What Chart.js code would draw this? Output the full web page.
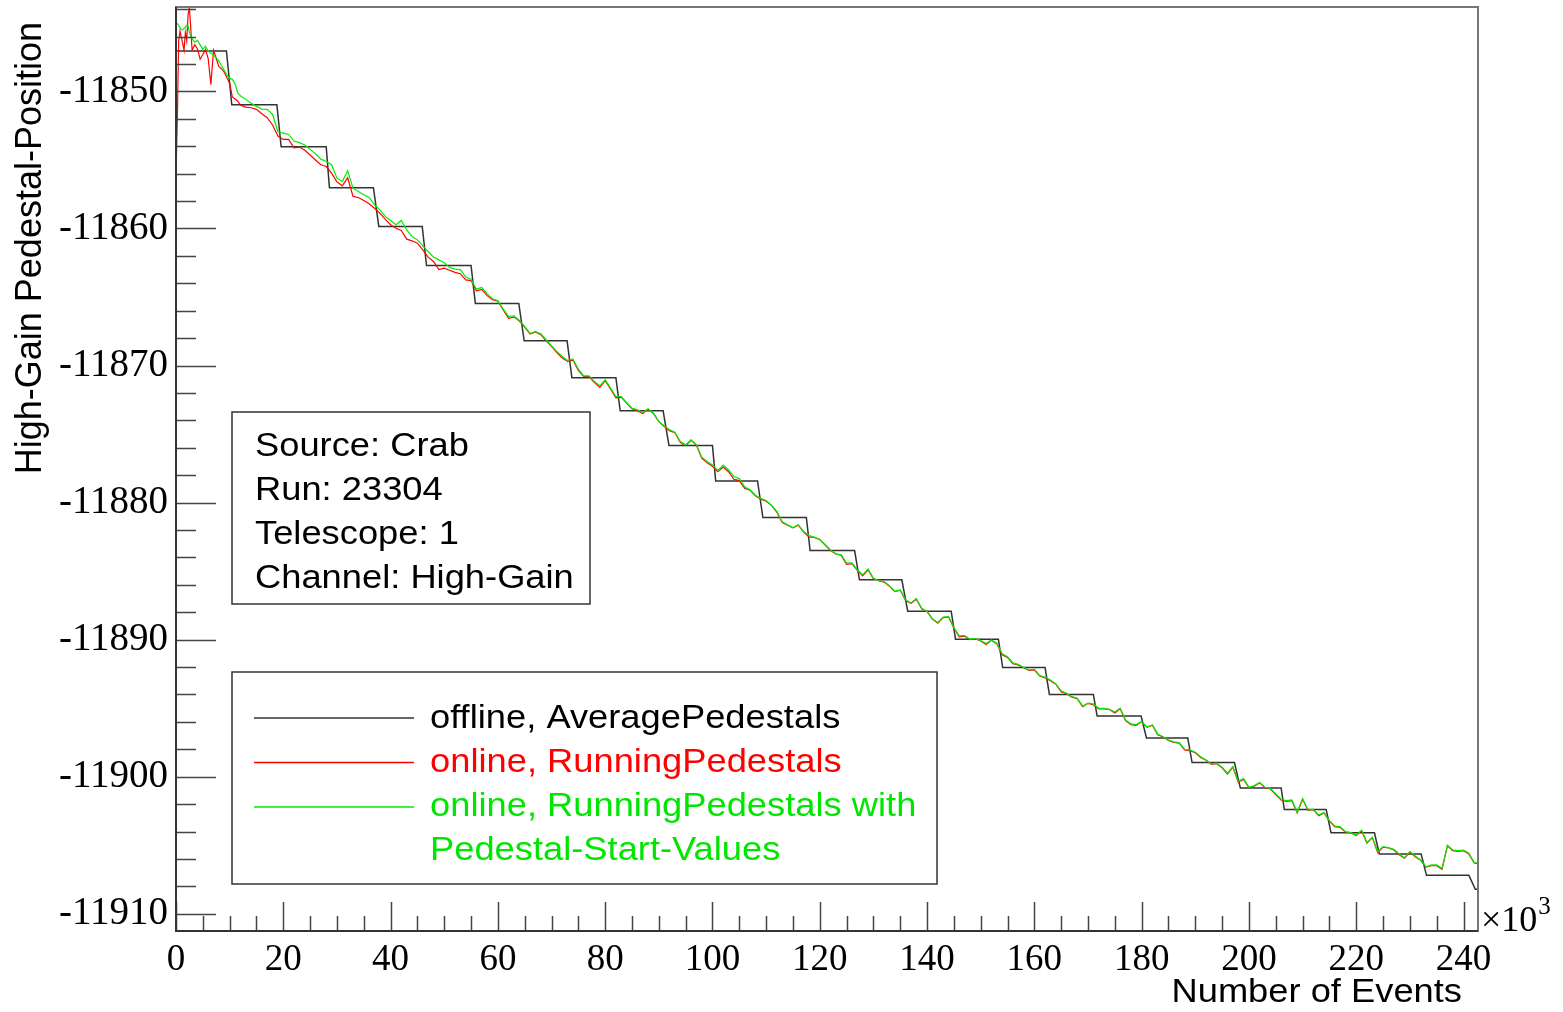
<!DOCTYPE html>
<html>
<head>
<meta charset="utf-8">
<title>High-Gain Pedestal-Position</title>
<script src="https://cdn.jsdelivr.net/npm/chart.js@4.4.1/dist/chart.umd.min.js"></script>
<style>
    body { margin: 0; background: #fff; }
    canvas { display: block; }
</style>
</head>
<body>
<canvas id="grafico" width="1563" height="1012"></canvas>
<script>
// eixos: eventos em 10^3
const xTicks = [0, 20, 40, 60, 80, 100, 120, 140, 160, 180, 200, 220, 240]
const yTicks = [-11910, -11900, -11890, -11880, -11870, -11860, -11850]

// offline, AveragePedestals: degraus (inicio, fim, nivel)
const stepStart = [0, 10.4, 19.6, 28.6, 37.8, 46.7, 55.8, 64.9, 73.8, 82.8, 91.9, 100.6, 109.4, 118.2,
    127.4, 136.4, 145.3, 154.1, 162.8, 171.7, 180.9, 189.4, 198.4, 206.6, 215.3, 224.3, 233.1]
const stepEnd = [9.4, 18.8, 28.0, 36.8, 45.9, 55.0, 63.9, 72.9, 82.0, 90.8, 100.0, 108.4, 117.5, 126.5,
    135.3, 144.5, 153.3, 162.0, 171.0, 179.9, 188.6, 197.3, 206.0, 214.4, 223.4, 232.1, 241.0]
const stepLevel = [-11847.05, -11850.97, -11854.04, -11857.03, -11859.85, -11862.7, -11865.47, -11868.2,
    -11870.9, -11873.3, -11875.84, -11878.42, -11881.09, -11883.5, -11885.64, -11887.93, -11889.97,
    -11892.04, -11894.0, -11895.57, -11897.18, -11898.97, -11900.82, -11902.4, -11904.1, -11905.64, -11907.2]
const tailEvents = [242.2, 242.7]
const tailPeds = [-11908.22, -11908.22]

// eventos dos pedestais online
const eventsK = [0, 0.25, 0.5, 0.75, 1, 1.25, 1.5, 1.75, 2, 2.25, 2.5, 2.75, 3, 3.5, 4, 4.5, 5, 5.5, 6, 6.5,
    7, 7.5, 8, 8.5, 9, 9.5, 10, 10.5, 11, 11.5, 12,
    13, 14, 15, 16, 17, 18, 19, 20, 21, 22,
    23, 24, 25, 26, 27, 28, 29, 30, 31, 32,
    33, 34, 35, 36, 37, 38, 39, 40, 41, 42,
    43, 44, 45, 46, 47, 48, 49, 50, 51, 52,
    53, 54, 55, 56, 57, 58, 59, 60, 61, 62,
    63, 64, 65, 66, 67, 68, 69, 70, 71, 72,
    73, 74, 75, 76, 77, 78, 79, 80, 81, 82,
    83, 84, 85, 86, 87, 88, 89, 90, 91, 92,
    93, 94, 95, 96, 97, 98, 99, 100, 101, 102,
    103, 104, 105, 106, 107, 108, 109, 110, 111, 112,
    113, 114, 115, 116, 117, 118, 119, 120, 121, 122,
    123, 124, 125, 126, 127, 128, 129, 130, 131, 132,
    133, 134, 135, 136, 137, 138, 139, 140, 141, 142,
    143, 144, 145, 146, 147, 148, 149, 150, 151, 152,
    153, 154, 155, 156, 157, 158, 159, 160, 161, 162,
    163, 164, 165, 166, 167, 168, 169, 170, 171, 172,
    173, 174, 175, 176, 177, 178, 179, 180, 181, 182,
    183, 184, 185, 186, 187, 188, 189, 190, 191, 192,
    193, 194, 195, 196, 197, 198, 199, 200, 201, 202,
    203, 204, 205, 206, 207, 208, 209, 210, 211, 212,
    213, 214, 215, 216, 217, 218, 219, 220, 221, 222,
    223, 224, 225, 226, 227, 228, 229, 230, 231, 232,
    233, 234, 235, 236, 237, 238, 239, 240, 241, 242,
    242.7]

// online, RunningPedestals
const runningPeds = [-11855.93, -11852.0, -11846.3, -11845.6, -11846.1, -11846.5, -11847.0, -11845.7, -11846.3, -11844.4,
    -11843.9, -11845.4, -11847.0, -11846.6, -11846.9, -11847.65, -11847.3, -11846.95, -11847.6, -11849.5,
    -11847.0, -11847.6, -11848.2, -11848.35, -11848.6, -11849.0, -11849.4, -11850.4, -11850.55, -11850.7, -11851.0,
    -11851.14, -11851.19, -11851.31, -11851.63, -11851.92, -11852.45, -11853.26, -11853.5, -11853.5, -11854.11,
    -11854.06, -11854.3, -11854.64, -11855.0, -11855.35, -11855.48, -11855.96, -11856.6, -11856.89, -11856.3,
    -11857.66, -11857.74, -11857.96, -11858.2, -11858.52, -11858.88, -11859.32, -11859.73, -11859.98, -11860.15,
    -11860.78, -11860.9, -11861.07, -11861.56, -11862.09, -11862.41, -11863.0, -11862.9, -11863.05, -11863.2,
    -11863.3, -11863.75, -11863.8, -11864.55, -11864.45, -11864.9, -11865.2, -11865.3, -11865.95, -11866.55,
    -11866.45, -11866.75, -11867.2, -11867.7, -11867.55, -11867.75, -11868.2, -11868.6, -11869.05, -11869.45,
    -11869.7, -11869.6, -11870.35, -11870.8, -11870.8, -11871.25, -11871.6, -11871.1, -11871.7, -11872.35,
    -11872.3, -11872.75, -11873.15, -11873.3, -11873.5, -11873.2, -11873.5, -11874.1, -11874.45, -11874.75,
    -11874.9, -11875.6, -11875.85, -11875.45, -11875.8, -11876.75, -11877.1, -11877.35, -11877.75, -11877.4,
    -11877.75, -11878.3, -11878.4, -11878.95, -11879.1, -11879.5, -11879.75, -11879.9, -11880.2, -11880.7,
    -11881.45, -11881.65, -11881.85, -11881.65, -11882.15, -11882.5, -11882.55, -11882.7, -11883.1, -11883.5,
    -11883.75, -11883.85, -11884.5, -11884.45, -11884.95, -11885.35, -11884.9, -11885.55, -11885.7, -11885.8,
    -11886.1, -11886.5, -11886.4, -11887.15, -11887.35, -11887.05, -11887.75, -11887.95, -11888.5, -11888.8,
    -11888.4, -11888.35, -11889.15, -11889.8, -11889.75, -11890.0, -11889.95, -11890.1, -11890.35, -11890.05,
    -11890.3, -11891.1, -11891.3, -11891.75, -11891.85, -11892.05, -11892.25, -11892.2, -11892.65, -11892.8,
    -11893.0, -11893.25, -11893.8, -11893.95, -11894.2, -11894.3, -11894.9, -11894.65, -11894.75, -11895.05,
    -11895.05, -11895.1, -11895.35, -11895.05, -11895.9, -11896.2, -11896.25, -11896.0, -11896.4, -11896.25,
    -11896.95, -11897.1, -11897.35, -11897.5, -11897.55, -11898.05, -11898.1, -11898.25, -11898.6, -11898.8,
    -11899.1, -11899.05, -11899.35, -11899.8, -11899.3, -11900.4, -11900.2, -11900.8, -11900.7, -11900.45,
    -11900.8, -11900.9, -11901.3, -11901.7, -11901.8, -11901.75, -11902.65, -11901.65, -11902.45, -11902.4,
    -11902.85, -11902.65, -11903.25, -11903.65, -11903.7, -11904.05, -11904.1, -11904.3, -11903.95, -11904.85,
    -11904.45, -11905.55, -11905.15, -11905.2, -11905.35, -11905.7, -11905.95, -11905.5, -11905.85, -11906.1,
    -11906.6, -11906.5, -11906.5, -11906.75, -11905.05, -11905.4, -11905.45, -11905.4, -11905.65, -11906.3,
    -11906.35]

// online, RunningPedestals with Pedestal-Start-Values
const startValuePeds = [-11844.98, -11845.05, -11845.16, -11845.35, -11845.5, -11845.5, -11845.4, -11845.3, -11845.18, -11845.2,
    -11845.71, -11845.95, -11846.15, -11846.4, -11846.27, -11846.6, -11846.93, -11846.7, -11847.05, -11847.2,
    -11847.35, -11847.54, -11847.78, -11848.15, -11848.46, -11848.83, -11849.05, -11849.12, -11849.44, -11850.1, -11850.31,
    -11850.58, -11850.87, -11851.09, -11851.29, -11851.31, -11851.68, -11852.94, -11853.04, -11853.14, -11853.62,
    -11853.74, -11853.91, -11854.23, -11854.55, -11854.94, -11855.11, -11855.35, -11856.33, -11856.57, -11855.8,
    -11857.06, -11857.3, -11857.54, -11857.74, -11858.27, -11858.64, -11859.12, -11859.42, -11859.73, -11859.42,
    -11860.1, -11860.58, -11860.83, -11861.27, -11861.68, -11862.09, -11862.29, -11862.5, -11862.84, -11862.97,
    -11863.0, -11863.55, -11863.7, -11864.43, -11864.3, -11864.77, -11865.13, -11865.28, -11865.89, -11866.42,
    -11866.37, -11866.71, -11867.15, -11867.66, -11867.52, -11867.69, -11868.12, -11868.56, -11868.98, -11869.34,
    -11869.63, -11869.54, -11870.27, -11870.75, -11870.75, -11871.17, -11871.48, -11871.04, -11871.65, -11872.26,
    -11872.26, -11872.7, -11873.11, -11873.23, -11873.43, -11873.15, -11873.48, -11874.09, -11874.4, -11874.69,
    -11874.86, -11875.55, -11875.79, -11875.42, -11875.79, -11876.69, -11877.0, -11877.25, -11877.66, -11877.27,
    -11877.6, -11878.1, -11878.25, -11878.85, -11879.07, -11879.46, -11879.7, -11879.85, -11880.19, -11880.65,
    -11881.41, -11881.62, -11881.82, -11881.62, -11882.11, -11882.4, -11882.52, -11882.69, -11883.06, -11883.45,
    -11883.74, -11883.81, -11884.42, -11884.4, -11884.91, -11885.27, -11884.84, -11885.52, -11885.69, -11885.76,
    -11886.08, -11886.47, -11886.37, -11887.1, -11887.32, -11887.0, -11887.71, -11887.95, -11888.49, -11888.75,
    -11888.36, -11888.31, -11889.12, -11889.73, -11889.7, -11889.97, -11889.92, -11890.07, -11890.29, -11890.02,
    -11890.26, -11891.04, -11891.24, -11891.7, -11891.8, -11892.04, -11892.21, -11892.16, -11892.62, -11892.74,
    -11892.94, -11893.23, -11893.74, -11893.91, -11894.16, -11894.28, -11894.84, -11894.64, -11894.69, -11895.01,
    -11895.01, -11895.08, -11895.28, -11895.0, -11895.86, -11896.15, -11896.2, -11895.98, -11896.37, -11896.22,
    -11896.88, -11897.08, -11897.32, -11897.46, -11897.51, -11898.0, -11898.05, -11898.22, -11898.54, -11898.78,
    -11899.07, -11899.02, -11899.31, -11899.75, -11899.27, -11900.34, -11900.14, -11900.77, -11900.65, -11900.43,
    -11900.77, -11900.85, -11901.26, -11901.65, -11901.75, -11901.7, -11902.6, -11901.6, -11902.43, -11902.38,
    -11902.79, -11902.62, -11903.21, -11903.6, -11903.65, -11904.01, -11904.08, -11904.25, -11903.9, -11904.8,
    -11904.42, -11905.47, -11905.11, -11905.18, -11905.3, -11905.64, -11905.91, -11905.47, -11905.79, -11906.08,
    -11906.57, -11906.44, -11906.44, -11906.69, -11905.0, -11905.35, -11905.4, -11905.35, -11905.59, -11906.27,
    -11906.3]

const infoLines = ['Source: Crab', 'Run: 23304', 'Telescope: 1', 'Channel: High-Gain']

//pontos {x, y} a partir dos arrays
function toPoints(xs, ys) {
    return xs.map((x, i) => ({ x: x, y: ys[i] }))
}

let stepPoints = []
stepStart.forEach((s, i) => {
    stepPoints.push({ x: s, y: stepLevel[i] }, { x: stepEnd[i], y: stepLevel[i] })
})
stepPoints = stepPoints.concat(toPoints(tailEvents, tailPeds))

const sans = '"Liberation Sans", Arial, sans-serif'
const serif = '"Liberation Serif", "Times New Roman", serif'

// texto um pouco alargado, como no estilo do ROOT
function wideText(ctx, text, x, y) {
    ctx.save()
    ctx.translate(x, y)
    ctx.scale(1.1, 1)
    ctx.fillText(text, 0, 0)
    ctx.restore()
}

//moldura, ticks internos, caixas de texto e legenda
const rootFrame = {
    id: 'rootFrame',
    afterDatasetsDraw(chart) {
        const { ctx, chartArea: a, scales: { x, y } } = chart
        ctx.save()

        // ticks para dentro
        ctx.strokeStyle = '#444'
        ctx.lineWidth = 1.5
        ctx.beginPath()
        for (let v = -11910; v <= y.max; v += 2) {
            const py = Math.round(y.getPixelForValue(v)) + 0.5
            const len = v % 10 === 0 ? 40 : 20
            ctx.moveTo(a.left, py)
            ctx.lineTo(a.left + len, py)
        }
        for (let v = 0; v <= x.max; v += 5) {
            const px = Math.round(x.getPixelForValue(v)) + 0.5
            const len = v % 20 === 0 ? 29 : 15
            ctx.moveTo(px, a.bottom)
            ctx.lineTo(px, a.bottom - len)
        }
        ctx.stroke()

        // moldura
        ctx.strokeStyle = '#777'
        ctx.lineWidth = 2
        ctx.strokeRect(a.left, a.top, a.right - a.left, a.bottom - a.top)
        ctx.strokeStyle = '#333'
        ctx.beginPath()
        ctx.moveTo(a.left, a.top)
        ctx.lineTo(a.left, a.bottom)
        ctx.lineTo(a.right, a.bottom)
        ctx.stroke()

        // caixa com informacoes da corrida
        ctx.fillStyle = '#fff'
        ctx.fillRect(232, 412, 358, 192)
        ctx.strokeStyle = '#333'
        ctx.lineWidth = 1.5
        ctx.strokeRect(232, 412, 358, 192)
        ctx.fillStyle = '#000'
        ctx.font = '33px ' + sans
        ctx.textAlign = 'left'
        ctx.textBaseline = 'alphabetic'
        infoLines.forEach((t, i) => wideText(ctx, t, 255, 456 + i * 44))

        // legenda
        ctx.fillStyle = '#fff'
        ctx.fillRect(232, 672, 705, 212)
        ctx.strokeRect(232, 672, 705, 212)
        let row = 0
        chart.data.datasets.forEach(ds => {
            const ly = 718 + row * 44.5
            ctx.strokeStyle = ds.borderColor
            ctx.lineWidth = 1.5
            ctx.beginPath()
            ctx.moveTo(254, ly)
            ctx.lineTo(414, ly)
            ctx.stroke()
            ctx.fillStyle = ds.textColor
            ds.label.split('\n').forEach(t => {
                wideText(ctx, t, 430, 728 + row * 44)
                row++
            })
        })

        ctx.restore()
    },
    afterDraw(chart) {
        const { ctx, chartArea: a } = chart
        ctx.save()
        ctx.fillStyle = '#000'

        // titulo do eixo y
        ctx.font = '36px ' + sans
        ctx.translate(31, 22)
        ctx.rotate(-Math.PI / 2)
        ctx.textAlign = 'right'
        ctx.textBaseline = 'middle'
        ctx.fillText('High-Gain Pedestal-Position', 0, 0)
        ctx.setTransform(1, 0, 0, 1, 0, 0)

        // titulo do eixo x
        ctx.font = '33px ' + sans
        ctx.textAlign = 'right'
        ctx.textBaseline = 'alphabetic'
        wideText(ctx, 'Number of Events', 1462, 1002)

        // fator de escala do eixo x
        ctx.textAlign = 'left'
        ctx.font = '36px ' + serif
        ctx.fillText('\u00d710', a.right + 3, a.bottom)
        const w = ctx.measureText('\u00d710').width
        ctx.font = '25px ' + serif
        ctx.fillText('3', a.right + 3 + w + 1, a.bottom - 17)

        ctx.restore()
    }
}

// sem folga extra nas pontas dos eixos
function noEdgePadding(s) {
    s.paddingTop = 0
    s.paddingBottom = 0
    s.paddingLeft = 0
    s.paddingRight = 0
}

//Criar o gráfico
let ctx = document.querySelector('#grafico').getContext('2d')
let chart = new Chart(ctx, {
    type: 'line',
    data: {
        datasets: [{
            label: 'offline, AveragePedestals',
            data: stepPoints,
            borderColor: '#333333',
            textColor: '#000000',
            borderWidth: 1.5,
            order: 2
        },
        {
            label: 'online, RunningPedestals',
            data: toPoints(eventsK, runningPeds),
            borderColor: '#ff0000',
            textColor: '#ff0000',
            borderWidth: 1.2,
            order: 1
        },
        {
            label: 'online, RunningPedestals with\nPedestal-Start-Values',
            data: toPoints(eventsK, startValuePeds),
            borderColor: '#00ee00',
            textColor: '#00e600',
            borderWidth: 1.2,
            order: 0
        }]
    },
    options: {
        responsive: false,
        animation: false,
        layout: { padding: { left: 0, top: 7, right: 85, bottom: 0 } },
        elements: {
            point: { radius: 0 },
            line: { tension: 0 }
        },
        plugins: {
            legend: { display: false },
            tooltip: { enabled: false }
        },
        scales: {
            x: {
                type: 'linear',
                min: 0,
                max: 242.7,
                grid: { display: false, drawTicks: false },
                border: { display: false },
                afterBuildTicks: s => { s.ticks = xTicks.map(v => ({ value: v })) },
                afterFit: s => { s.height = 81; noEdgePadding(s) },
                ticks: {
                    color: '#000',
                    padding: 7,
                    maxRotation: 0,
                    font: { family: serif, size: 37 },
                    callback: v => String(v)
                }
            },
            y: {
                min: -11911.26,
                max: -11843.84,
                grid: { display: false, drawTicks: false },
                border: { display: false },
                afterBuildTicks: s => { s.ticks = yTicks.map(v => ({ value: v })) },
                afterFit: s => { s.width = 176; noEdgePadding(s) },
                ticks: {
                    color: '#000',
                    padding: 8,
                    font: { family: serif, size: 39 },
                    callback: v => String(v)
                }
            }
        }
    },
    plugins: [rootFrame]
})
</script>
</body>
</html>
